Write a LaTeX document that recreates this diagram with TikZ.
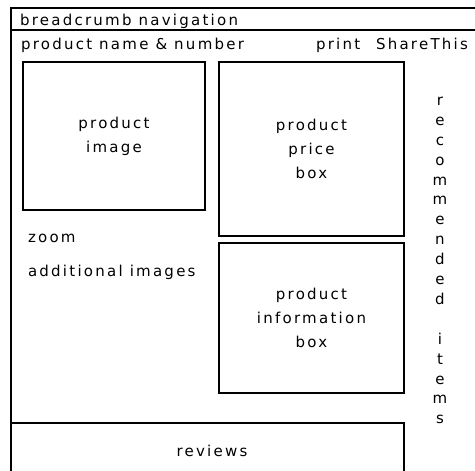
\documentclass[tikz,border=0pt]{standalone}
\usepackage{fontspec}
\newfontfamily\wirefont[LetterSpace=15]{DejaVu Sans}
\usetikzlibrary{positioning}

\begin{document}
\begin{tikzpicture}[x=1pt, y=-1pt, line width=1.6pt, align=center,
    font=\wirefont\fontsize{15}{24}\selectfont,
    every node/.style={inner sep=0pt, outer sep=0pt},
    box/.style={draw, anchor=north west}]
    \useasboundingbox (0,0) rectangle (475,471);

    % page frame, header bands and reviews strip
    \draw (480,8) -- (11,8) -- (11,480);
    \draw (11,30) -- (480,30);
    \draw (11,423) -| (404,480);

    \node (crumb) [anchor=base west] at (20,25) {breadcrumb navigation};
    \node (name) [anchor=base west] at (21,49) {product name \& number};
    \node (print) [anchor=base west] at (316,49) {print};
    \node (share) [anchor=base west] at (376,49) {ShareThis};

    \node (image) [box, minimum width=182pt, minimum height=148pt] at (23,62) {product\\image};
    \node (price) [box, minimum width=185pt, minimum height=174pt] at (219,62) {product\\price\\box};
    \node (info) [box, minimum width=185pt, minimum height=150pt, below=7pt of price] {product\\information\\box};

    \node (zoom) [anchor=base west] at (28,242) {zoom};
    \node (more) [anchor=base west] at (28,276) {additional images};
    \node (reviews) [anchor=base] at (212,456) {reviews};

    \node (recs) [anchor=north, font=\wirefont\fontsize{15}{19.9}\selectfont] at (440,97)
        {r\\e\\c\\o\\m\\m\\e\\n\\d\\e\\d\\[19.9pt]i\\t\\e\\m\\s};
\end{tikzpicture}
\end{document}
